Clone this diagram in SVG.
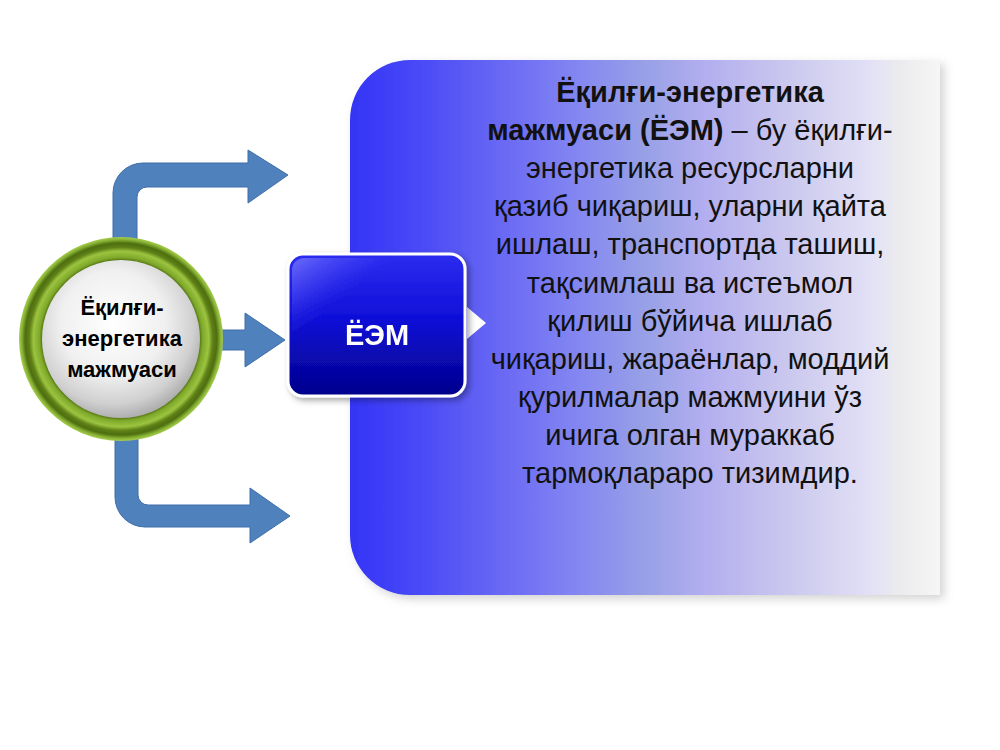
<svg xmlns="http://www.w3.org/2000/svg" width="1000" height="750" viewBox="0 0 1000 750">
  <defs>
    <linearGradient id="panelGrad" x1="0" y1="0" x2="1" y2="0">
      <stop offset="0" stop-color="#3434f6"/>
      <stop offset="0.1" stop-color="#4646f8"/>
      <stop offset="0.2" stop-color="#5c5cf4"/>
      <stop offset="0.3" stop-color="#7272f4"/>
      <stop offset="0.4" stop-color="#868af0"/>
      <stop offset="0.5" stop-color="#98a0e6"/>
      <stop offset="0.6" stop-color="#b2aef0"/>
      <stop offset="0.7" stop-color="#c4c0ee"/>
      <stop offset="0.8" stop-color="#d4d2f0"/>
      <stop offset="0.88" stop-color="#e2e0f6"/>
      <stop offset="0.93" stop-color="#ebebee"/>
      <stop offset="1" stop-color="#f6f6f6"/>
    </linearGradient>
    <linearGradient id="boxGrad" x1="0" y1="0" x2="0" y2="1">
      <stop offset="0" stop-color="#2c2cf0"/>
      <stop offset="0.45" stop-color="#1010d8"/>
      <stop offset="1" stop-color="#00008c"/>
    </linearGradient>
    <linearGradient id="boxGloss" x1="0" y1="0" x2="0.6" y2="0.6">
      <stop offset="0" stop-color="#8888ff" stop-opacity="0.7"/>
      <stop offset="0.5" stop-color="#5050ff" stop-opacity="0"/>
    </linearGradient>
    <radialGradient id="sphereGrad" cx="0.45" cy="0.4" r="0.6">
      <stop offset="0" stop-color="#ffffff"/>
      <stop offset="0.55" stop-color="#f0f0f0"/>
      <stop offset="0.85" stop-color="#d0d0d0"/>
      <stop offset="1" stop-color="#b0b0b0"/>
    </radialGradient>
    <radialGradient id="ringGrad" cx="0.5" cy="0.5" r="0.5">
      <stop offset="0.76" stop-color="#44600a"/>
      <stop offset="0.8" stop-color="#7ea82a"/>
      <stop offset="0.86" stop-color="#9cc440"/>
      <stop offset="0.9" stop-color="#5e8016"/>
      <stop offset="0.94" stop-color="#4e6e10"/>
      <stop offset="0.975" stop-color="#88b434"/>
      <stop offset="1" stop-color="#a8cc50"/>
    </radialGradient>
    <filter id="shadow" x="-10%" y="-10%" width="125%" height="125%">
      <feDropShadow dx="3" dy="3" stdDeviation="3" flood-color="#000" flood-opacity="0.35"/>
    </filter>
    <filter id="softShadow" x="-5%" y="-5%" width="112%" height="112%">
      <feDropShadow dx="4" dy="4" stdDeviation="5" flood-color="#808080" flood-opacity="0.35"/>
    </filter>
    <style>
      .arrow { fill: #4f81bd; stroke: #3f6fa8; stroke-width: 1; }
      .circ { font-family: "Liberation Sans", Arial, sans-serif; font-weight: bold; font-size: 22px; fill: #000; text-anchor: middle; }
      .box { font-family: "Liberation Sans", Arial, sans-serif; font-weight: bold; font-size: 29px; fill: #fff; text-anchor: middle; }
      .body { font-family: "Liberation Sans", Arial, sans-serif; font-size: 29px; fill: #111; text-anchor: middle; }
      .b { font-weight: bold; }
    </style>
  </defs>

  <rect width="1000" height="750" fill="#ffffff"/>

  <g id="panel" filter="url(#softShadow)">
    <path d="M410,60 H940 V595 H410 A60,60 0 0 1 350,535 V120 A60,60 0 0 1 410,60 Z" fill="url(#panelGrad)"/>
  </g>

  <g id="connectors">
    <path class="arrow" d="M113,250 V193 A30,30 0 0 1 143,163 H248 V150 L288,175 L248,203 V187 H147 A10,10 0 0 0 137,197 V250 Z"/>
    <path class="arrow" d="M210,330 H245 V313 L285,340 L245,367 V350 H210 Z"/>
    <path class="arrow" d="M115,430 V497 A30,30 0 0 0 145,527 H250 V543 L290,516 L250,488 V505 H148 A10,10 0 0 1 138,495 V430 Z"/>
    <path d="M467,307 L486,323 L467,339 Z" fill="#ffffff"/>
  </g>

  <g id="node-circle">
    <circle cx="121" cy="339" r="102" fill="url(#ringGrad)"/>
    <circle cx="121" cy="339" r="79" fill="url(#sphereGrad)"/>
    <text class="circ" x="122" y="315">Ёқилғи-</text>
    <text class="circ" x="122" y="346">энергетика</text>
    <text class="circ" x="122" y="377">мажмуаси</text>
  </g>

  <g id="node-eem" filter="url(#shadow)">
    <rect x="288" y="254" width="177" height="142" rx="15" ry="15" fill="url(#boxGrad)" stroke="#ffffff" stroke-width="3"/>
    <rect x="292" y="258" width="169" height="134" rx="12" ry="12" fill="url(#boxGloss)"/>
    <text class="box" x="377" y="345">ЁЭМ</text>
  </g>

  <g id="node-definition">
    <text class="body b" x="690" y="102">Ёқилғи-энергетика</text>
    <text class="body" x="690" y="140"><tspan class="b">мажмуаси (ЁЭМ)</tspan> – бу ёқилғи-</text>
    <text class="body" x="690" y="178">энергетика ресурсларни</text>
    <text class="body" x="690" y="216">қазиб чиқариш, уларни қайта</text>
    <text class="body" x="690" y="254">ишлаш, транспортда ташиш,</text>
    <text class="body" x="690" y="293">тақсимлаш ва истеъмол</text>
    <text class="body" x="690" y="331">қилиш бўйича ишлаб</text>
    <text class="body" x="690" y="369">чиқариш, жараёнлар, моддий</text>
    <text class="body" x="690" y="407">қурилмалар мажмуини ўз</text>
    <text class="body" x="690" y="445">ичига олган мураккаб</text>
    <text class="body" x="690" y="483">тармоқлараро тизимдир.</text>
  </g>
</svg>
